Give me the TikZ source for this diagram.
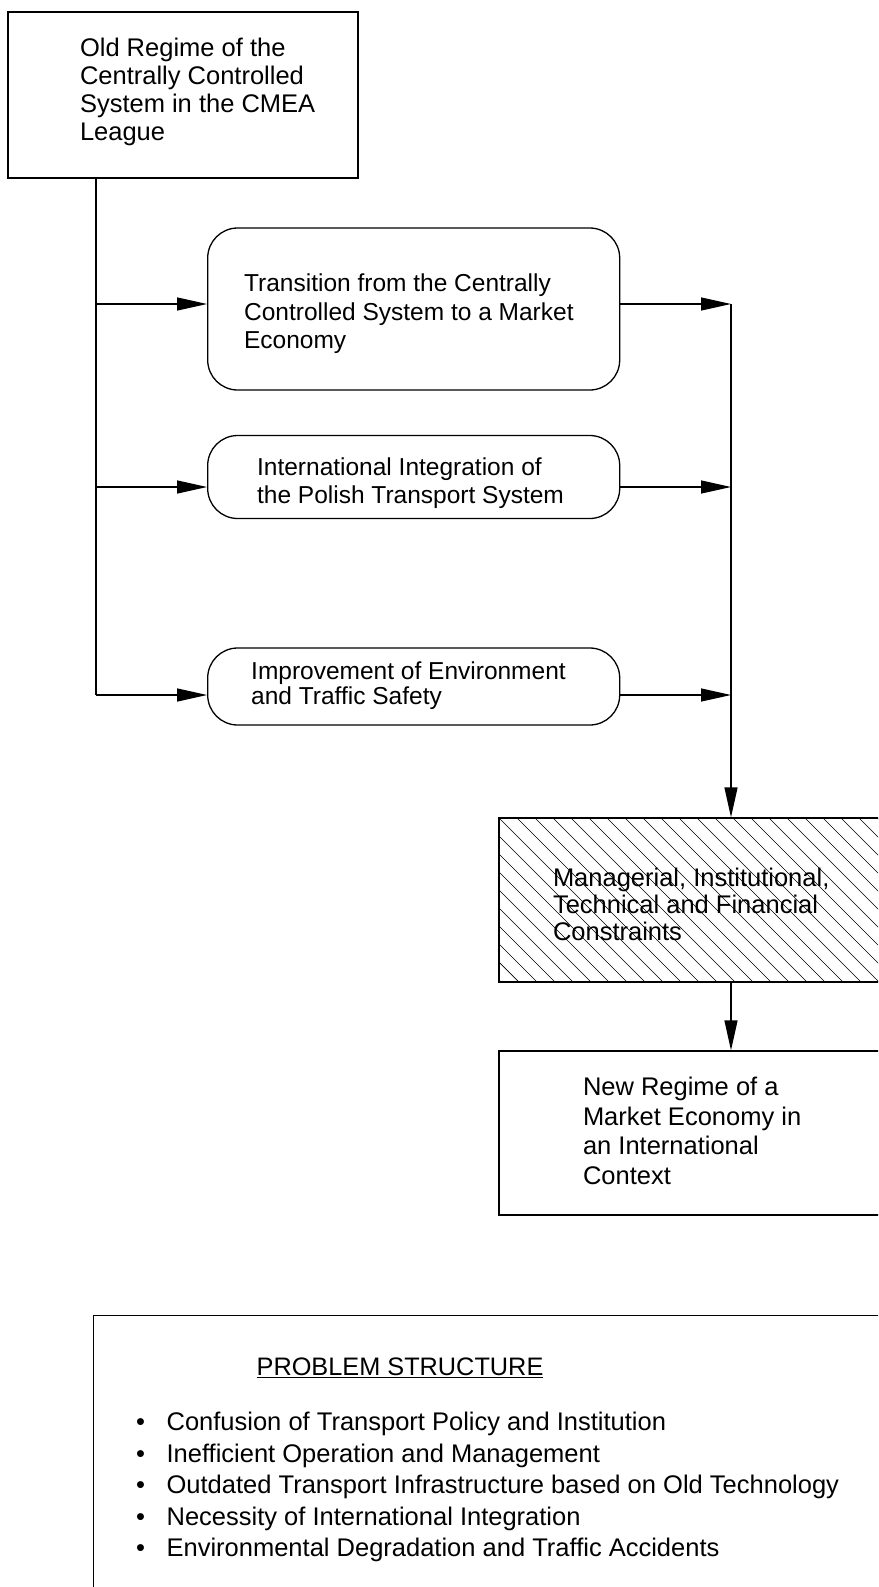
\documentclass[tikz,border=0pt]{standalone}
\usepackage{fontspec}
\setmainfont{Liberation Sans}
\usetikzlibrary{arrows.meta,positioning}

\begin{document}
\begin{tikzpicture}[x=1pt,y=-1pt,line width=1.3pt,
    box/.style={draw,rectangle,inner sep=0pt},
    rbox/.style={box,rounded corners=30pt},
    txt/.style={anchor=north west,inner sep=0pt,align=left,font=\fontsize{24.5}{28.5}\selectfont},
    big/.style={font=\fontsize{25.5}{28}\selectfont},
    arr/.style={-{Triangle[length=30pt,width=13pt]}}]
    \path[use as bounding box,clip] (0,0) rectangle (878,1587);
    % boxes
    \node[box,minimum width=350pt,minimum height=166pt] (old) at (183,95) {};
    \node[rbox,minimum width=412pt,minimum height=162pt] (trans) at (413.7,309) {};
    \node[rbox,minimum width=412pt,minimum height=83pt] (integ) at (413.7,477) {};
    \node[rbox,minimum width=412pt,minimum height=77pt] (envir) at (413.7,686.5) {};
    \node[box,minimum width=464pt,minimum height=164pt] (constr) at (731,900) {};
    \node[box,minimum width=464pt,minimum height=164pt] (newreg) at (731,1133) {};
    \node[box,minimum width=900pt,minimum height=400pt,anchor=north west] (probs) at (93,1314.5) {};
    % hatching
    \begin{scope}
        \clip (constr.south west) rectangle (constr.north east);
        \foreach \i in {-10,...,26}
            \draw[line width=0.7pt] (499+\i*18,818) -- ++(164,164);
    \end{scope}
    % texts
    \node[txt,big] (oldtxt) at ([shift={(72,26.4)}]old.north west)
        {Old Regime of the\\Centrally Controlled\\System in the CMEA\\League};
    \node[txt] (transtxt) at ([shift={(36.4,46)}]trans.north west)
        {Transition from the Centrally\\Controlled System to a Market\\Economy};
    \node[txt,font=\fontsize{24.5}{28}\selectfont] (integtxt) at ([shift={(49.4,22)}]integ.north west)
        {International Integration of\\the Polish Transport System};
    \node[txt,font=\fontsize{24.5}{25}\selectfont] (envirtxt) at ([shift={(43.5,14)}]envir.north west)
        {Improvement of Environment\\and Traffic Safety};
    \node[txt,font=\fontsize{25.5}{27}\selectfont] (constrtxt) at ([shift={(54,50.5)}]constr.north west)
        {Managerial, Institutional,\\Technical and Financial\\Constraints};
    \node[txt,font=\fontsize{25.5}{29.5}\selectfont] (newtxt) at ([shift={(84,26.5)}]newreg.north west)
        {New Regime of a\\Market Economy in\\an International\\Context};
    \node[txt,font=\fontsize{25.3}{31}\selectfont] (probhead) at ([shift={(163,42.4)}]probs.north west)
        {\underline{PROBLEM STRUCTURE}};
    \node[txt,font=\fontsize{25.5}{31.5}\selectfont] (problist) at ([shift={(42.5,96.9)}]probs.north west)
        {\makebox[30.5pt][l]{\textbullet}Confusion of Transport Policy and Institution\\
         \makebox[30.5pt][l]{\textbullet}Inefficient Operation and Management\\
         \makebox[30.5pt][l]{\textbullet}Outdated Transport Infrastructure based on Old Technology\\
         \makebox[30.5pt][l]{\textbullet}Necessity of International Integration\\
         \makebox[30.5pt][l]{\textbullet}Environmental Degradation and Traffic Accidents};
    % connectors
    \coordinate (j1) at (96,304);
    \coordinate (j2) at (96,487);
    \coordinate (split) at (96,695);
    \coordinate (m1) at (731,304);
    \coordinate (m2) at (731,487);
    \coordinate (m3) at (731,695);
    \draw (old.south -| split) -- (split);
    \draw[arr] (j1) -- (j1 -| trans.west);
    \draw[arr] (j2) -- (j2 -| integ.west);
    \draw[arr] (split) -- (split -| envir.west);
    \draw[arr] (m1 -| trans.east) -- (m1);
    \draw[arr] (m2 -| integ.east) -- (m2);
    \draw[arr] (m3 -| envir.east) -- (m3);
    \draw[arr] (m1) -- (constr.north);
    \draw[arr] (constr.south) -- (newreg.north);
\end{tikzpicture}
\end{document}
